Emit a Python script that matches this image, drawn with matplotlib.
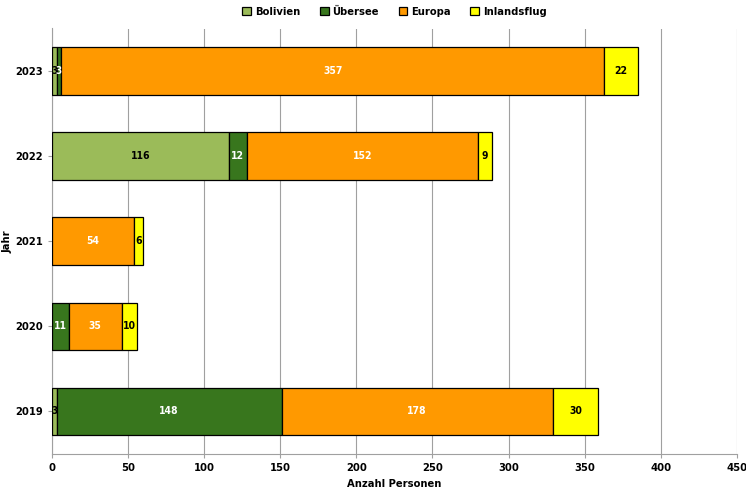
import matplotlib
matplotlib.use('Agg')
import matplotlib.pyplot as plt
from matplotlib import font_manager
import numpy as np

years = ['2019', '2020', '2021', '2022', '2023']
bolivien = [3, 0, 0, 116, 3]
uebersee = [148, 11, 0, 12, 3]
europa = [178, 35, 54, 152, 357]
inland = [30, 10, 6, 9, 22]

series = [
    ('Bolivien', bolivien, '#9BBB59', 'black'),
    ('Übersee', uebersee, '#38761D', 'white'),
    ('Europa', europa, '#FF9900', 'white'),
    ('Inlandsflug', inland, '#FFFF00', 'black'),
]

names = {f.name for f in font_manager.fontManager.ttflist}
if 'Liberation Sans Narrow' in names:
    plt.rcParams['font.family'] = ['Liberation Sans Narrow', 'DejaVu Sans']
else:
    plt.rcParams['font.family'] = ['DejaVu Sans']
    plt.rcParams['font.stretch'] = 'condensed'

fig = plt.figure(figsize=(7.46, 5.0), dpi=100)
ax = fig.add_axes([0.0697, 0.092, 0.918, 0.851])

y = np.arange(len(years))
left = np.zeros(len(years))
for name, vals, col, tcol in series:
    vals = np.array(vals, dtype=float)
    ax.barh(y, vals, left=left, height=0.56, color=col,
            edgecolor='black', linewidth=0.9, label=name, zorder=3)
    for i, v in enumerate(vals):
        if v > 0:
            fs = 7.5 if v >= 5 else 7
            ax.text(left[i] + v / 2, y[i], '%d' % v, ha='center', va='center',
                    fontsize=fs, fontweight='bold', color=tcol, zorder=4)
    left += vals

ax.set_xlim(0, 450)
ax.set_ylim(-0.5, len(years) - 0.5)
ax.set_xticks(np.arange(0, 451, 50))
ax.set_yticks(y)
ax.set_yticklabels(years)
ax.tick_params(axis='both', labelsize=8, length=3, color='#A0A0A0')
for lab in ax.get_xticklabels() + ax.get_yticklabels():
    lab.set_fontweight('bold')
ax.xaxis.grid(True, color='#A0A0A0', linewidth=0.8, zorder=0)
for s in ['top', 'right']:
    ax.spines[s].set_visible(False)
ax.spines['bottom'].set_color('#A0A0A0')
ax.spines['left'].set_color('#A0A0A0')

ax.set_xlabel('Anzahl Personen', fontsize=8, fontweight='bold', labelpad=4)
ax.set_ylabel('Jahr', fontsize=8, fontweight='bold')
ax.yaxis.set_label_coords(-0.057, 0.5)

ax.legend(loc='upper center', bbox_to_anchor=(0.5, 1.075), ncol=4, frameon=False,
          prop={'size': 8, 'weight': 'bold'}, handlelength=0.8, handleheight=0.8,
          handletextpad=0.3, columnspacing=1.8)

fig.savefig('out.png', dpi=100)
